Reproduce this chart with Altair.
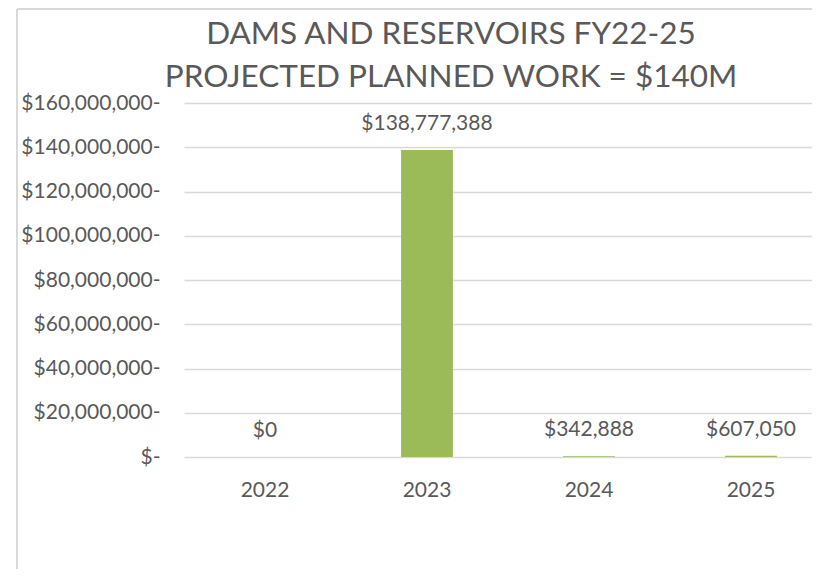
import altair as alt
import pandas as pd

years = ["2022", "2023", "2024", "2025"]
amounts = [0, 138777388, 342888, 607050]
y_ticks = [0, 20000000, 40000000, 60000000, 80000000, 100000000, 120000000, 140000000, 160000000]
title_lines = ["DAMS AND RESERVOIRS FY22-25", "PROJECTED PLANNED WORK = $140M"]

FONT = "Lato"
TXT = "#595959"
GRID = "#D9D9D9"

df = pd.DataFrame({"year": years, "amount": amounts})

x_enc = alt.X(
    "year:N",
    sort=years,
    scale=alt.Scale(range=[0, 648], paddingInner=0.68, paddingOuter=0.34),
    axis=alt.Axis(title=None, labelAngle=0, domain=False, ticks=False,
                  labelFont=FONT, labelFontSize=21, labelColor=TXT, labelPadding=22),
)
y_enc = alt.Y(
    "amount:Q",
    scale=alt.Scale(domain=[0, 160000000], nice=False),
    axis=alt.Axis(
        title=None, values=y_ticks, domain=False, ticks=False,
        gridColor=GRID, gridWidth=1.5,
        labelFont=FONT, labelFontSize=21, labelColor=TXT, labelPadding=24,
        labelExpr="datum.value == 0 ? '$-' : '$' + format(datum.value, ',') + '-'",
    ),
)

base = alt.Chart(df)

bars = base.mark_bar(color="#9BBB59").encode(x=x_enc, y=y_enc)

labels = base.transform_calculate(
    lbl="'$' + format(datum.amount, ',')"
).mark_text(font=FONT, fontSize=21, color=TXT, baseline="middle", dy=-26).encode(
    x=alt.X("year:N", sort=years),
    y=alt.Y("amount:Q"),
    text="lbl:N",
)

border_df = pd.DataFrame({"k": [0]})
left_border = alt.Chart(border_df).mark_rule(color=GRID, strokeWidth=2).encode(
    x=alt.value(-167), y=alt.value(-94), y2=alt.value(480)
)
top_border = alt.Chart(border_df).mark_rule(color=GRID, strokeWidth=2).encode(
    x=alt.value(-167), x2=alt.value(700), y=alt.value(-94)
)

chart = alt.layer(left_border, top_border, bars, labels).properties(
    width=628,
    height=354,
    autosize=alt.AutoSizeParams(type="none"),
    padding={"left": 176, "top": 95, "right": 0, "bottom": 112},
    title=alt.TitleParams(
        text=title_lines,
        font=FONT,
        fontSize=31.5,
        fontWeight="normal",
        color=TXT,
        anchor="middle",
        frame="group",
        baseline="alphabetic",
        lineHeight=43,
        dx=-47,
        dy=110,
        offset=0,
    ),
).configure_view(stroke=None)

chart.save("out.html", embed_options={"renderer": "svg", "actions": False})
